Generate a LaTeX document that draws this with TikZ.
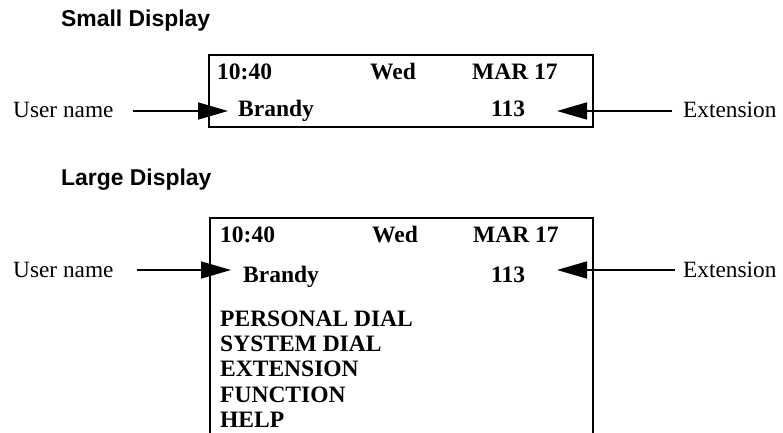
\documentclass[tikz,border=0pt]{standalone}
\usepackage{fontspec}
\setmainfont{Liberation Serif}
\newfontfamily\headfont{Liberation Sans}
\usetikzlibrary{arrows.meta}
\begin{document}
\begin{tikzpicture}[x=1bp,y=-1bp,
  lbl/.style={inner sep=0pt, anchor=base west, font=\fontsize{23.4}{25}\selectfont},
  disp/.style={inner sep=0pt, anchor=base west, font=\fontsize{23.6}{25}\selectfont\bfseries},
  head/.style={inner sep=0pt, anchor=base west, font=\headfont\fontsize{23}{25}\selectfont\bfseries},
  frame/.style={line width=2bp},
  arr/.style={line width=1.6bp, -{Triangle[length=30bp,width=17bp]}}]
\useasboundingbox (0,0) rectangle (783,433);

% headings
\node[head] (hsmall) at (61,27) {Small Display};
\node[head] (hlarge) at (61,186) {Large Display};

% small display
\draw[frame] (209,55) rectangle (593,127);
\node[disp] (st) at (217,80) {10:40};
\node[disp] (sd) at (370,80) {Wed};
\node[disp] (sm) at (472,80) {MAR 17};
\node[disp] (sb) at (238,117) {Brandy};
\node[disp] (se) at (491,117) {113};
\node[lbl] (su) at (13,118) {User name};
\node[lbl] (sx) at (683,118) {Extension};
\coordinate (su0) at (133,111);
\coordinate (su1) at (228,111);
\coordinate (sx0) at (672,111);
\coordinate (sx1) at (557,111);
\draw[arr] (su0) -- (su1);
\draw[arr] (sx0) -- (sx1);

% large display
\draw[frame] (210,434) -- (210,218) -- (593,218) -- (593,434);
\node[disp] (lt) at (220,243) {10:40};
\node[disp] (ld) at (372,243) {Wed};
\node[disp] (lm) at (473,243) {MAR 17};
\node[disp] (lb) at (243,283) {Brandy};
\node[disp] (le) at (491,283) {113};
\node[disp] (m1) at (220,327) {PERSONAL DIAL};
\node[disp] (m2) at (220,352) {SYSTEM DIAL};
\node[disp] (m3) at (220,377) {EXTENSION};
\node[disp] (m4) at (220,402) {FUNCTION};
\node[disp] (m5) at (220,427) {HELP};
\node[lbl] (lu) at (13,278) {User name};
\node[lbl] (lx) at (683,278) {Extension};
\coordinate (lu0) at (137,270);
\coordinate (lu1) at (231,270);
\coordinate (lx0) at (675,270);
\coordinate (lx1) at (557,270);
\draw[arr] (lu0) -- (lu1);
\draw[arr] (lx0) -- (lx1);
\end{tikzpicture}
\end{document}
